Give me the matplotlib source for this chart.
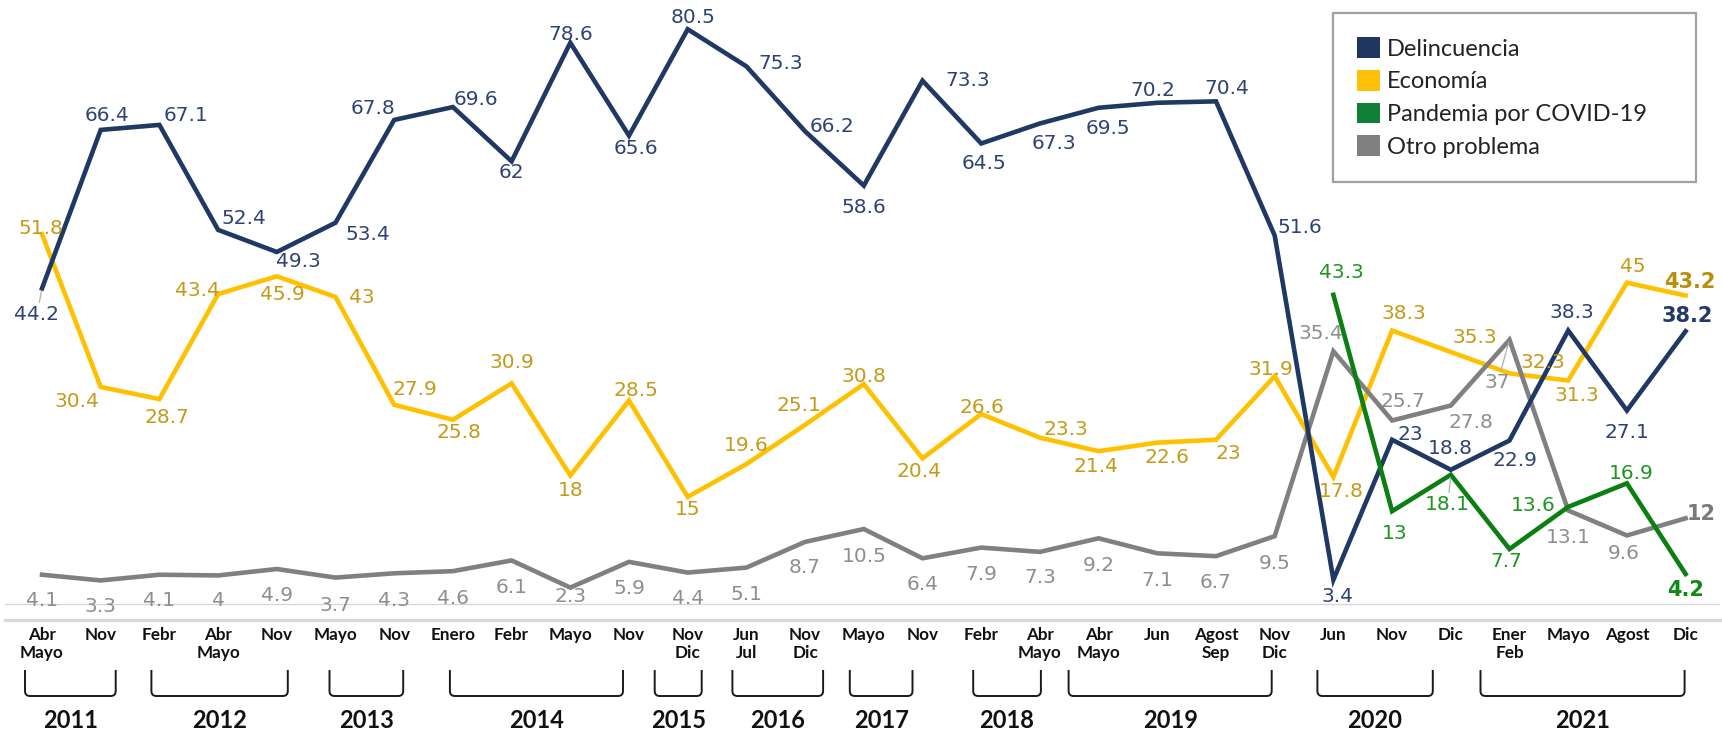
import matplotlib
matplotlib.use("Agg")
import matplotlib.pyplot as plt
from matplotlib.patches import Patch, PathPatch
from matplotlib.path import Path
from matplotlib.transforms import blended_transform_factory

# ---------------- data ----------------
periods = ["Abr\nMayo", "Nov", "Febr", "Abr\nMayo", "Nov", "Mayo", "Nov", "Enero", "Febr",
           "Mayo", "Nov", "Nov\nDic", "Jun\nJul", "Nov\nDic", "Mayo", "Nov", "Febr",
           "Abr\nMayo", "Abr\nMayo", "Jun", "Agost\nSep", "Nov\nDic", "Jun", "Nov", "Dic",
           "Ener\nFeb", "Mayo", "Agost", "Dic"]
years = ["2011", "2012", "2013", "2014", "2015", "2016", "2017", "2018", "2019", "2020", "2021"]
year_first = [0, 2, 5, 7, 11, 12, 14, 16, 18, 22, 25]
year_last = [1, 4, 6, 10, 11, 13, 15, 17, 21, 24, 28]

delincuencia = [44.2, 66.4, 67.1, 52.4, 49.3, 53.4, 67.8, 69.6, 62, 78.6, 65.6, 80.5, 75.3,
                66.2, 58.6, 73.3, 64.5, 67.3, 69.5, 70.2, 70.4, 51.6, 3.4, 23, 18.8, 22.9,
                38.3, 27.1, 38.2]
economia = [51.8, 30.4, 28.7, 43.4, 45.9, 43, 27.9, 25.8, 30.9, 18, 28.5, 15, 19.6, 25.1,
            30.8, 20.4, 26.6, 23.3, 21.4, 22.6, 23, 31.9, 17.8, 38.3, 35.3, 32.3, 31.3, 45,
            43.2]
otro = [4.1, 3.3, 4.1, 4, 4.9, 3.7, 4.3, 4.6, 6.1, 2.3, 5.9, 4.4, 5.1, 8.7, 10.5, 6.4, 7.9,
        7.3, 9.2, 7.1, 6.7, 9.5, 35.4, 25.7, 27.8, 37, 13.1, 9.6, 12]
pandemia = [43.3, 13, 18.1, 7.7, 13.6, 16.9, 4.2]
pandemia_start = 22

series_names = ["Delincuencia", "Economía", "Pandemia por COVID-19", "Otro problema"]

# ---------------- styles / layout ----------------
W, H = 1722, 731
C_NAVY, C_GOLD, C_GREEN, C_GREY = "#203864", "#FFC000", "#0B7F12", "#808080"
L_NAVY, L_GOLD, L_GREEN, L_GREY = "#2E4273", "#C49A18", "#1E951E", "#8E8E8E"
LEG_COLORS = ["#213562", "#FFC00A", "#108036", "#808080"]

# label offsets (pixels, dx right, dy down)
off_del = [(-5, 26), (6, -14), (27, -9), (26, -11), (22, 10), (32, 12), (-21, -11), (23, -8),
           (0, 11), (0, -8), (7, 13), (5, -12), (34, -3), (27, -5), (0, 22), (45, 0), (3, 20),
           (14, 20), (9, 21), (-4, -12), (11, -13), (25, -8), (4, 17), (18, -5), (0, -21),
           (5, 20), (4, -18), (0, 22), (2, -15)]
off_eco = [(-1, -6), (-24, 15), (8, 18), (-21, -4), (6, 18), (26, 1), (21, -15), (6, 13),
           (0, -21), (0, 15), (7, -10), (0, 13), (0, -19), (-6, -19), (0, -8), (-3, 13),
           (1, -7), (26, -8), (-3, 15), (10, 15), (12, 14), (-4, -7), (8, 15), (12, -17),
           (24, -14), (33, -11), (9, 15), (6, -16), (4, -14)]
off_otro = [(0, 26), (0, 26), (0, 26), (0, 25), (0, 26), (0, 28), (0, 27), (0, 27), (0, 27),
            (0, 9), (0, 27), (0, 26), (0, 27), (0, 26), (0, 27), (0, 26), (0, 27), (0, 26),
            (0, 27), (0, 27), (0, 26), (0, 27), (-13, -18), (11, -19), (20, 17), (-12, 43),
            (0, 27), (-3, 18), (16, -4)]
off_pan = [(8, -22), (3, 22), (-3, 30), (-3, 12), (-35, -1), (4, -10), (0, 16)]
leaders = {("otro", 25), ("pan", 2), ("del", 0)}

bracket_pad = [(-17, 15), (-8, 11), (-6, 9), (-3, -6), (-33, 14), (-14, 18), (-14, -10),
               (-8, 1), (-30, -3), (-16, -18), (-29, -1)]

# pixel geometry of the plot
X0, DX = 42.0, 58.7          # pixel x of first point, pixel step
Y0, DY = 604.0, 7.14         # pixel y of value 0, pixels per unit
AX_L, AX_R, AX_T, AX_B = 5, 1720, 0, 620

fig = plt.figure(figsize=(W / 100, H / 100), dpi=100)
ax = fig.add_axes([AX_L / W, 1 - AX_B / H, (AX_R - AX_L) / W, (AX_B - AX_T) / H])
ax.set_xlim((AX_L - X0) / DX, (AX_R - X0) / DX)
ax.set_ylim((Y0 - AX_B) / DY, (Y0 - AX_T) / DY)

for s in ["top", "left", "right"]:
    ax.spines[s].set_visible(False)
ax.spines["bottom"].set_color("#D9D9D9")
ax.spines["bottom"].set_linewidth(2.4)
ax.axhline(0, color="#D4D4D4", lw=0.9, zorder=1)
ax.set_yticks([])
ax.set_xticks(range(len(periods)))
ax.set_xticklabels(periods, fontfamily="Lato", fontweight="bold", fontsize=12.3,
                   color="#111111", linespacing=1.15)
ax.tick_params(axis="x", length=0, pad=5)

xs = list(range(len(periods)))
xp = list(range(pandemia_start, pandemia_start + len(pandemia)))

lw = 3.3
ax.plot(xs, economia, color=C_GOLD, lw=lw, solid_joinstyle="miter", zorder=3)
ax.plot(xs, otro, color=C_GREY, lw=lw, solid_joinstyle="miter", zorder=4)
ax.plot(xs, delincuencia, color=C_NAVY, lw=lw, solid_joinstyle="miter", zorder=5)
ax.plot(xp, pandemia, color=C_GREEN, lw=lw, solid_joinstyle="miter", zorder=6)


def fmt(v):
    return ("%g" % v)


def add_labels(xv, yv, offs, color, key, bold_color):
    n = len(yv)
    for k, (x, v, (dx, dy)) in enumerate(zip(xv, yv, offs)):
        last = (k == n - 1)
        kw = dict(fontsize=15 if last else 14.5, fontweight="bold" if last else "normal",
                  color=bold_color if last else color, ha="center", va="center",
                  fontfamily="DejaVu Sans", zorder=7)
        if (key, k) in leaders:
            kw["arrowprops"] = dict(arrowstyle="-", color="#B0B0B0", lw=0.9,
                                    shrinkA=0, shrinkB=2)
        ax.annotate(fmt(v), (x, v), xytext=(dx, -dy), textcoords="offset pixels", **kw)


add_labels(xs, delincuencia, off_del, L_NAVY, "del", "#24386A")
add_labels(xs, economia, off_eco, L_GOLD, "eco", "#B98E0A")
add_labels(xs, otro, off_otro, L_GREY, "otro", "#7A7A7A")
add_labels(xp, pandemia, off_pan, L_GREEN, "pan", "#0E8A14")

# year brackets
trans = blended_transform_factory(ax.transData, fig.transFigure)
ytop, ybot = 1 - 670 / H, 1 - 696 / H
rx, ry = 5 / DX, 5 / H
for yr, f, l, (pl, pr) in zip(years, year_first, year_last, bracket_pad):
    xa = f + pl / DX
    xb = l + pr / DX
    verts = [(xa, ytop), (xa, ybot + ry), (xa, ybot), (xa + rx, ybot), (xb - rx, ybot),
             (xb, ybot), (xb, ybot + ry), (xb, ytop)]
    codes = [Path.MOVETO, Path.LINETO, Path.CURVE3, Path.CURVE3, Path.LINETO,
             Path.CURVE3, Path.CURVE3, Path.LINETO]
    ax.add_patch(PathPatch(Path(verts, codes), transform=trans, fill=False, lw=1.4,
                           ec="#1A1A1A", clip_on=False))
    ax.text((xa + xb) / 2, 1 - 720 / H, yr, transform=trans, ha="center", va="center",
            fontfamily="Lato", fontweight="bold", fontsize=17, color="#111111")

# legend
handles = [Patch(facecolor=c, edgecolor="none") for c in LEG_COLORS]
leg = fig.legend(handles, series_names, loc="upper left",
                 bbox_to_anchor=(1333 / W, 1 - 182 / H, 363 / W, 169 / H), mode="expand",
                 prop={"family": "Lato", "size": 17}, handlelength=0.97, handleheight=0.97,
                 handletextpad=0.3, labelspacing=0.43, borderpad=1.03, borderaxespad=0,
                 fancybox=False, framealpha=1, edgecolor="#A0A0A0")
leg.get_frame().set_linewidth(1.6)
for t in leg.get_texts():
    t.set_color("#222222")

fig.savefig("out.png", dpi=100)
